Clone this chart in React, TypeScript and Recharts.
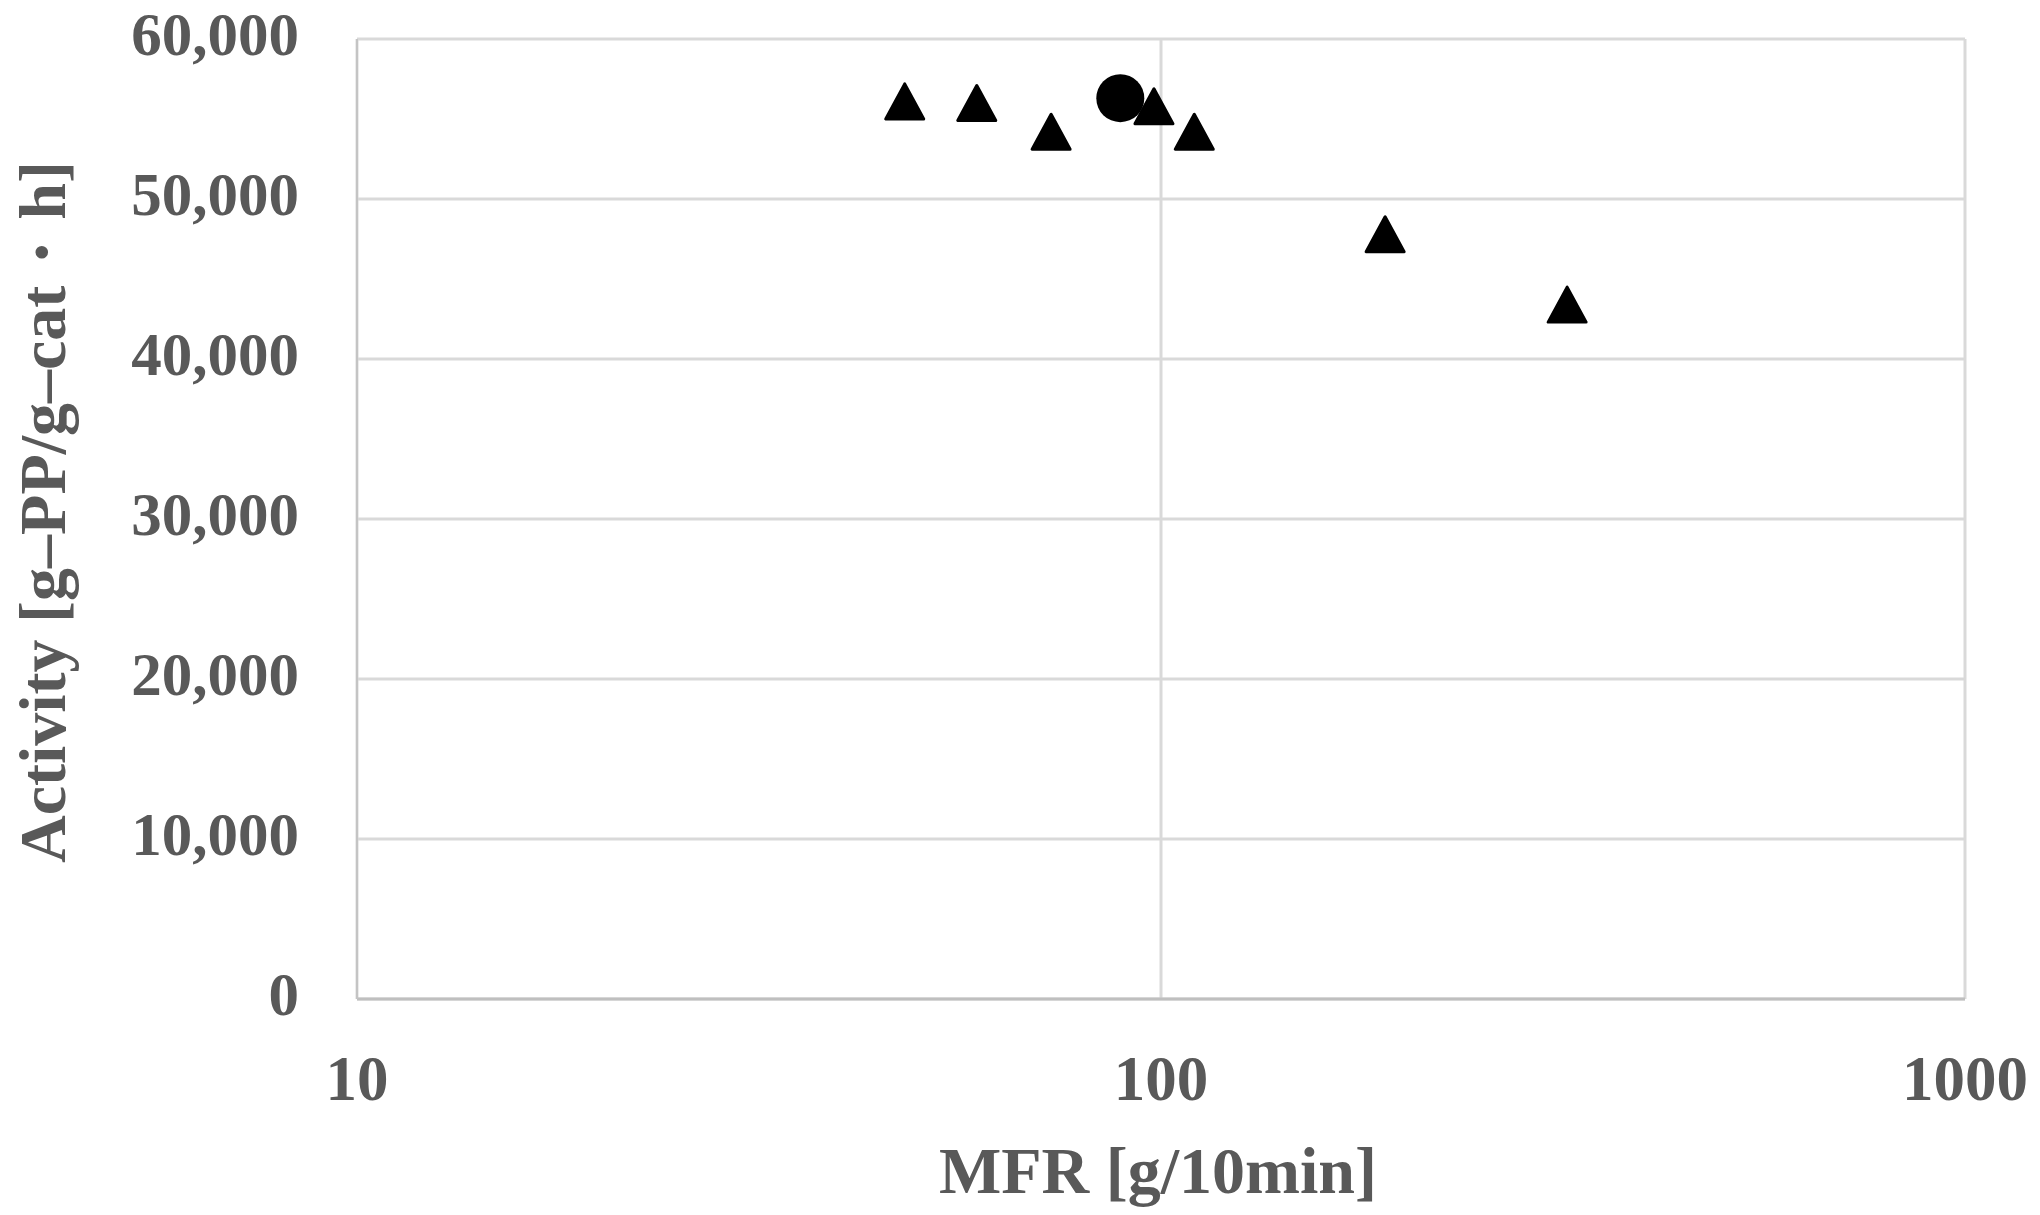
import React from 'react';
import { ScatterChart, Scatter, XAxis, YAxis, CartesianGrid } from 'recharts';

// MFR [g/10min] and Activity [g-PP/g-cat・h]
const triangleMFR = [48, 59, 73, 98, 110, 190, 320];
const triangleActivity = [56100, 56000, 54200, 55800, 54200, 47800, 43400];
const circleMFR = [89];
const circleActivity = [56300];

const xTicks = [10, 100, 1000];
const yTicks = [0, 10000, 20000, 30000, 40000, 50000, 60000];

const triangleData = triangleMFR.map((x, i) => ({ x, y: triangleActivity[i] }));
const circleData = circleMFR.map((x, i) => ({ x, y: circleActivity[i] }));

const FONT = '"Liberation Serif", "Times New Roman", serif';
const TEXT_COLOR = '#595959';

const TriangleShape = (props: any) => {
  const { cx, cy } = props;
  if (cx == null || cy == null) return null;
  const w = 38;
  const h = 35;
  const pts = `${cx},${cy - h / 2} ${cx - w / 2},${cy + h / 2} ${cx + w / 2},${cy + h / 2}`;
  return <polygon points={pts} fill="#000" stroke="#000" strokeWidth={3} strokeLinejoin="round" />;
};

const CircleShape = (props: any) => {
  const { cx, cy } = props;
  if (cx == null || cy == null) return null;
  return <circle cx={cx} cy={cy} r={24} fill="#000" />;
};

const YTick = (props: any) => {
  const { x, y, payload } = props;
  return (
    <text x={x} y={y + 16} textAnchor="end" fill={TEXT_COLOR} fontFamily={FONT} fontWeight="bold" fontSize={61}>
      {Number(payload.value).toLocaleString('en-US')}
    </text>
  );
};

const XTick = (props: any) => {
  const { x, y, payload } = props;
  return (
    <text x={x} y={y + 101} textAnchor="middle" fill={TEXT_COLOR} fontFamily={FONT} fontWeight="bold" fontSize={63}>
      {String(payload.value)}
    </text>
  );
};

const YTitle = (props: any) => {
  const { viewBox } = props;
  const cx = 65;
  const cy = viewBox.y + viewBox.height / 2 - 7;
  return (
    <text
      x={cx}
      y={cy}
      transform={`rotate(-90, ${cx}, ${cy})`}
      textAnchor="middle"
      fill={TEXT_COLOR}
      fontFamily={FONT}
      fontWeight="bold"
      fontSize={66}
    >
      Activity [g–PP/g–cat・h]
    </text>
  );
};

const XTitle = (props: any) => {
  const { viewBox } = props;
  const cx = viewBox.x + viewBox.width / 2 - 3;
  const cy = viewBox.y + 194;
  return (
    <text x={cx} y={cy} textAnchor="middle" fill={TEXT_COLOR} fontFamily={FONT} fontWeight="bold" fontSize={66}>
      MFR [g/10min]
    </text>
  );
};

export default function App() {
  return (
    <div style={{ margin: -8, width: 2040, height: 1215, overflow: 'hidden' }}>
      <ScatterChart width={2040} height={1215} margin={{ top: 39, right: 75, bottom: 0, left: 0 }}>
        <CartesianGrid stroke="#d9d9d9" strokeWidth={3} />
        <XAxis
          type="number"
          dataKey="x"
          scale="log"
          domain={[10, 1000]}
          ticks={xTicks}
          allowDataOverflow
          height={216}
          tickLine={false}
          tickSize={0}
          tickMargin={0}
          tick={<XTick />}
          axisLine={{ stroke: '#bfbfbf', strokeWidth: 3 }}
          label={<XTitle />}
        />
        <YAxis
          type="number"
          dataKey="y"
          domain={[0, 60000]}
          ticks={yTicks}
          allowDataOverflow
          width={357}
          tickLine={false}
          tickSize={0}
          tickMargin={58}
          tick={<YTick />}
          axisLine={{ stroke: '#c4c4c4', strokeWidth: 2 }}
          label={<YTitle />}
        />
        <Scatter data={circleData} fill="#000" shape={<CircleShape />} isAnimationActive={false} />
        <Scatter data={triangleData} fill="#000" shape={<TriangleShape />} isAnimationActive={false} />
      </ScatterChart>
    </div>
  );
}
